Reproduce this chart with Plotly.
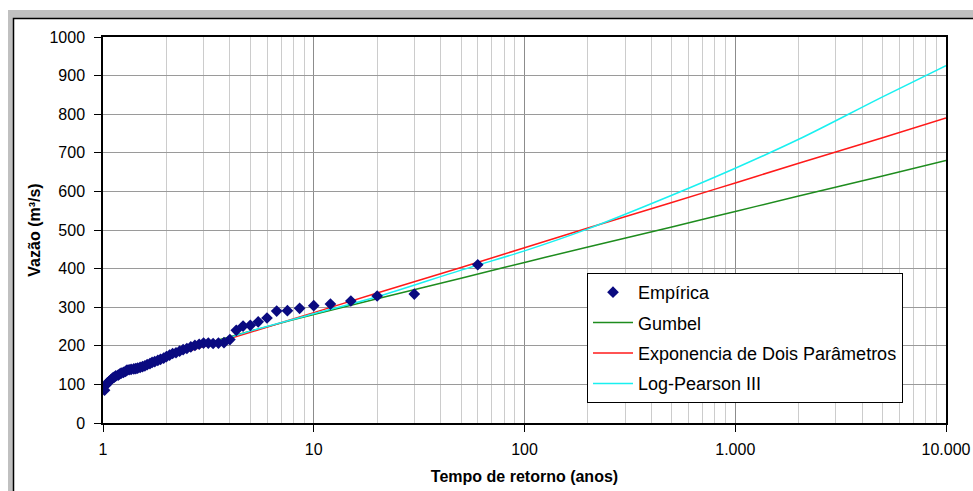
import plotly.graph_objects as go

# Empirical series: return period (years) and observed discharge (m³/s)
emp_T = [60.0, 30.0, 20.0, 15.0, 12.0, 10.0, 8.57, 7.5, 6.67, 6.0,
         5.45, 5.0, 4.62, 4.29, 4.0, 3.75, 3.53, 3.33, 3.16, 3.0,
         2.86, 2.73, 2.61, 2.5, 2.4, 2.31, 2.22, 2.14, 2.07, 2.0,
         1.94, 1.875, 1.82, 1.76, 1.71, 1.67, 1.62, 1.58, 1.54, 1.5,
         1.46, 1.43, 1.4, 1.36, 1.33, 1.3, 1.28, 1.25, 1.22, 1.2,
         1.18, 1.15, 1.13, 1.11, 1.09, 1.07, 1.05, 1.03, 1.017]
emp_Q = [410, 334, 329, 316, 308, 304, 297, 291, 290, 272,
         262, 253, 251, 240, 216, 208, 207, 206, 207, 207,
         204, 201, 197, 193, 190, 186, 182, 180, 176, 172,
         168, 165, 162, 159, 157, 154, 151, 148, 146, 144,
         142, 141, 140, 139, 138, 137, 134, 131, 129, 127,
         124, 122, 119, 116, 112, 108, 104, 98, 85]

# Fitted distributions
fit_T = [1.1, 1.25, 1.5, 2, 3, 5, 10, 20, 50, 100, 200, 500, 1000, 2000, 5000, 10000]
gumbel_Q = [103, 124, 146, 173, 204, 238, 281, 322, 375, 416, 456, 508, 548, 588, 640, 680]
expo_Q = [125, 134, 148, 169, 198, 235, 286, 337, 403, 454, 505, 571, 622, 673, 739, 790]
lp3_Q = [112, 128, 148, 171, 200, 238, 283, 327, 396, 446, 503, 590, 660, 735, 845, 926]

x_tickvals = [1, 10, 100, 1000, 10000]
x_ticktext = ["1", "10", "100", "1.000", "10.000"]
x_minor = [m * d for d in (1, 10, 100, 1000) for m in range(2, 10)]
y_tickvals = list(range(0, 1001, 100))

W, H = 973, 491
L, R, T, B = 103, 946, 37, 423  # plot area in pixels


def px(xp):
    return (xp - L) / (R - L)


def py(yp):
    return (B - yp) / (B - T)


FONT = "Liberation Sans, Arial, sans-serif"

fig = go.Figure()
fig.add_trace(go.Scatter(x=fit_T, y=gumbel_Q, mode="lines", name="Gumbel",
                         line=dict(color="#1e8c1e", width=1.5, shape="spline"),
                         legendgroup="g", legendrank=2))
fig.add_trace(go.Scatter(x=fit_T, y=expo_Q, mode="lines", name="Exponencia de Dois Parâmetros",
                         line=dict(color="#ff1a1a", width=1.5, shape="spline"),
                         legendgroup="e", legendrank=3))
fig.add_trace(go.Scatter(x=fit_T, y=lp3_Q, mode="lines", name="Log-Pearson III",
                         line=dict(color="#19f0f0", width=1.5, shape="spline"),
                         legendgroup="l", legendrank=4))
fig.add_trace(go.Scatter(x=emp_T, y=emp_Q, mode="markers", name="Empírica",
                         marker=dict(symbol="diamond", size=9, color="#0a0a80"),
                         legendgroup="m", legendrank=1))

fig.update_layout(
    width=W, height=H,
    margin=dict(l=L, r=W - R, t=T, b=H - B, pad=0, autoexpand=False),
    paper_bgcolor="white",
    plot_bgcolor="rgba(0,0,0,0)",
    font=dict(family=FONT, size=16, color="black"),
    showlegend=True,
    legend=dict(
        x=px(587), y=py(273), xanchor="left", yanchor="top",
        bgcolor="white", bordercolor="black", borderwidth=1,
        font=dict(family=FONT, size=18, color="black"),
        tracegroupgap=4, itemwidth=40,
    ),
    shapes=[
        dict(type="rect", xref="paper", yref="paper", layer="below",
             x0=px(8), x1=px(1100), y0=py(700), y1=py(10),
             fillcolor="#c0c0c0", line=dict(width=0)),
        dict(type="rect", xref="paper", yref="paper", layer="below",
             x0=px(13.5), x1=px(1100), y0=py(700), y1=py(18.5),
             fillcolor="white", line=dict(color="black", width=1.5)),
    ],
)

fig.update_xaxes(
    type="log", range=[0, 4], automargin=False,
    tickvals=x_tickvals, ticktext=x_ticktext,
    ticks="outside", ticklen=7, tickwidth=1, tickcolor="black",
    showgrid=True, gridcolor="#8c8c8c", gridwidth=1,
    minor=dict(tickvals=x_minor, showgrid=True, gridcolor="#cccccc", gridwidth=1, ticks=""),
    showline=True, linecolor="black", linewidth=1.5, mirror=True,
    ticklabelstandoff=4,
    tickfont=dict(size=16),
    title=dict(text="<b>Tempo de retorno (anos)</b>", font=dict(size=16), standoff=14),
    zeroline=False,
)
fig.update_yaxes(
    range=[0, 1000], tickvals=y_tickvals, automargin=False,
    ticks="outside", ticklen=7, tickwidth=1, tickcolor="black",
    showgrid=True, gridcolor="#9a9a9a", gridwidth=1,
    showline=True, linecolor="black", linewidth=1.5, mirror=True,
    ticklabelstandoff=6,
    tickfont=dict(size=16),
    title=dict(text="<b>Vazão (m³/s)</b>", font=dict(size=16), standoff=5),
    zeroline=False,
)

fig.write_html("out.html")
